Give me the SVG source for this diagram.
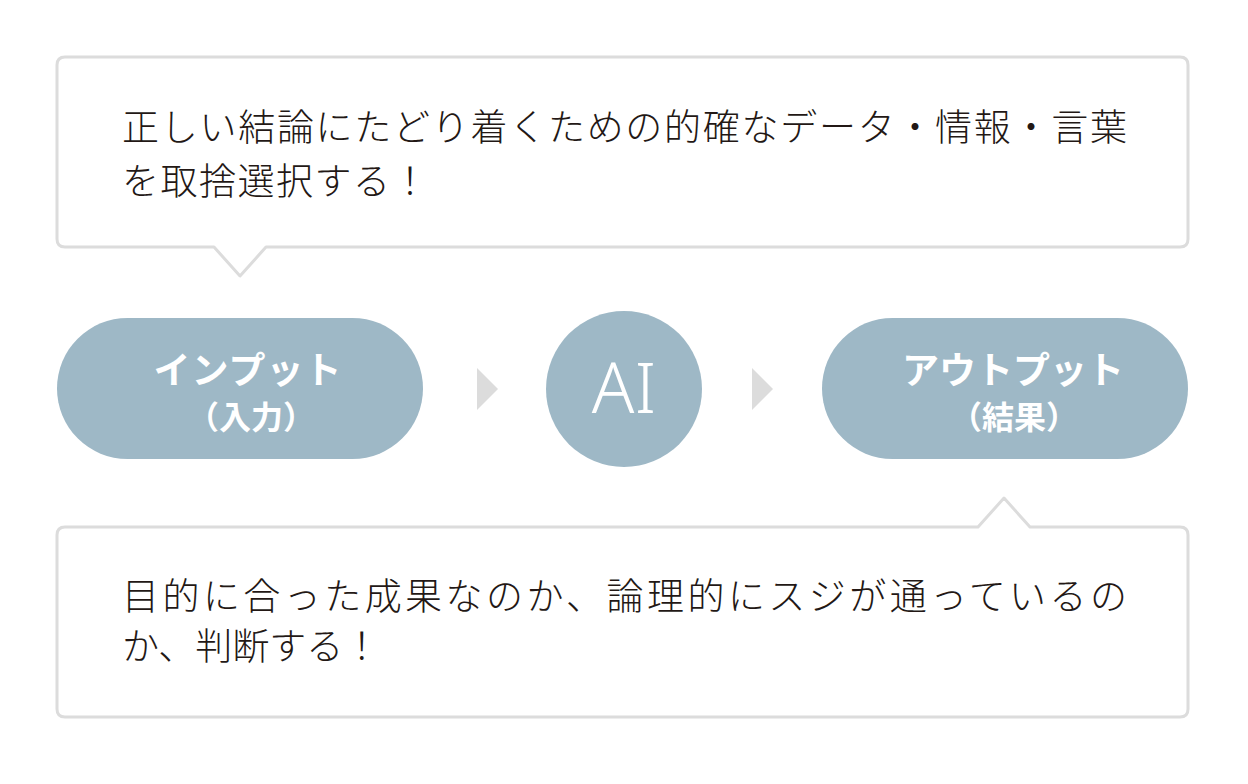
<svg xmlns="http://www.w3.org/2000/svg" width="1248" height="784" viewBox="0 0 1248 784">
<style>
.callout{fill:#ffffff;stroke:#dcdcdc;stroke-width:3;stroke-linejoin:round}
.body{font-family:"Noto Sans CJK JP","Noto Sans",sans-serif;font-weight:300;font-size:37px;fill:#231815}
.pill{fill:#9eb8c6}
.lbl{font-family:"Noto Sans CJK JP","Noto Sans",sans-serif;font-weight:700;fill:#ffffff;text-anchor:middle}
.arrow{fill:#dcdcdc}
</style>
<rect width="1248" height="784" fill="#ffffff"/>
<g id="callout-top">
<path class="callout" d="M65,57 H1180 Q1188,57 1188,65 V239 Q1188,247 1180,247 H266 L240,276 L214,247 H65 Q57,247 57,239 V65 Q57,57 65,57 Z"/>
<text class="body" x="122" y="141" textLength="1005" lengthAdjust="spacing">正しい結論にたどり着くための的確なデータ・情報・言葉</text>
<text class="body" x="122" y="195" letter-spacing="1.5">を取捨選択する！</text>
</g>
<g id="node-input">
<rect class="pill" x="57" y="318" width="366" height="141" rx="70.5" ry="70.5"/>
<text class="lbl" x="248" y="384" font-size="37" letter-spacing="1">インプット</text>
<text class="lbl" x="251" y="429" font-size="32">（入力）</text>
</g>
<g id="node-ai">
<circle class="pill" cx="624" cy="389" r="78"/>
<text x="624" y="413" text-anchor="middle" font-family="Noto Sans, sans-serif" font-weight="300" font-size="70" fill="#ffffff">AI</text>
</g>
<g id="node-output">
<rect class="pill" x="822" y="318" width="366" height="141" rx="70.5" ry="70.5"/>
<text class="lbl" x="1013" y="384" font-size="37">アウトプット</text>
<text class="lbl" x="1014" y="429" font-size="32">（結果）</text>
</g>
<g id="connectors">
<polygon class="arrow" points="477,368 498,389 477,410"/>
<polygon class="arrow" points="752,368 773,389 752,410"/>
</g>
<g id="callout-bottom">
<path class="callout" d="M65,527 H978 L1004,498 L1030,527 H1180 Q1188,527 1188,535 V709 Q1188,717 1180,717 H65 Q57,717 57,709 V535 Q57,527 65,527 Z"/>
<text class="body" x="122" y="610" textLength="1005" lengthAdjust="spacing">目的に合った成果なのか、論理的にスジが通っているの</text>
<text class="body" x="122" y="660">か、判断する！</text>
</g>
</svg>
